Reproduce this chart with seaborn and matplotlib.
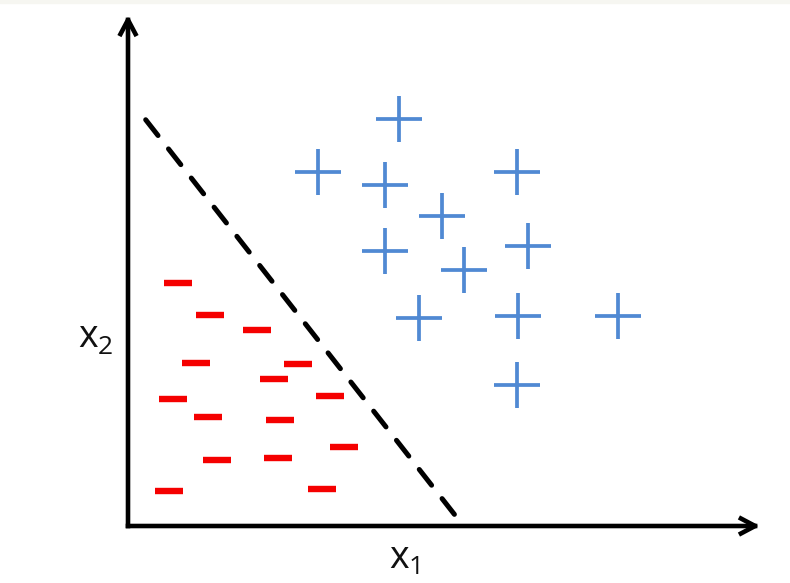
import numpy as np
import pandas as pd
import seaborn as sns
import matplotlib.pyplot as plt
from matplotlib.patches import Rectangle

# positive class (blue plus signs)
pos_x1 = [42.9, 30.1, 40.7, 61.6, 49.7, 40.7, 63.3, 53.2, 46.0, 61.7, 77.5, 61.6]
pos_x2 = [79.6, 69.3, 66.7, 69.3, 60.7, 53.8, 54.8, 50.1, 40.7, 41.1, 41.1, 27.6]

# negative class (red minus signs)
neg_x1 = [7.9, 13.0, 20.4, 10.8, 26.9, 23.1, 7.1, 32.0, 12.7, 24.1, 34.2, 14.1, 23.7, 6.5, 30.7]
neg_x2 = [47.6, 41.3, 38.4, 31.9, 31.7, 28.8, 24.9, 25.4, 21.3, 20.7, 15.5, 12.9, 13.3, 6.8, 7.2]

# separating line end points
boundary_x1 = [2.8, 52.2]
boundary_x2 = [79.5, 1.4]

pos = pd.DataFrame({'x1': pos_x1, 'x2': pos_x2})
neg = pd.DataFrame({'x1': neg_x1, 'x2': neg_x2})

sns.set_theme(style='white')
plt.rcParams['font.family'] = ['Open Sans', 'DejaVu Sans']

W, H = 790, 583
fig = plt.figure(figsize=(W / 100, H / 100), dpi=100)
fig.patches.append(Rectangle((0, 1 - 3 / H), 1, 3 / H, transform=fig.transFigure,
                             color='#f6f6f1', zorder=0))

ax = fig.add_axes([128 / W, (H - 526) / H, 632 / W, 511 / H])
ax.set_xlim(0, 100)
ax.set_ylim(0, 100)
ax.axis('off')

sns.scatterplot(data=pos, x='x1', y='x2', marker='+', s=1140, linewidth=2.7,
                color='#5089d3', ax=ax, zorder=3)
sns.scatterplot(data=neg, x='x1', y='x2', marker='_', s=380, linewidth=4.6,
                color='#f50000', ax=ax, zorder=3)

ax.plot(boundary_x1, boundary_x2, color='black', linewidth=3.6, dashes=(4.0, 3.4),
        dash_capstyle='round', zorder=2)

# axes arrows
arrow = dict(arrowstyle='->,head_length=0.85,head_width=0.45', color='black',
             linewidth=3.3, shrinkA=0, shrinkB=0, capstyle='projecting')
ax.annotate('', xy=(100, 0), xytext=(0, 0), arrowprops=arrow, annotation_clip=False)
ax.annotate('', xy=(0, 100), xytext=(0, 0), arrowprops=arrow, annotation_clip=False)

# axis labels with subscripts
fig.text(88 / W, 1 - 337 / H, 'x', fontsize=27, ha='center', va='center', color='#111111')
fig.text(105 / W, 1 - 348 / H, '2', fontsize=19, ha='center', va='center', color='#111111')
fig.text(399 / W, 1 - 558 / H, 'x', fontsize=27, ha='center', va='center', color='#111111')
fig.text(416 / W, 1 - 567 / H, '1', fontsize=19, ha='center', va='center', color='#111111')

plt.savefig('out.png', dpi=100)
